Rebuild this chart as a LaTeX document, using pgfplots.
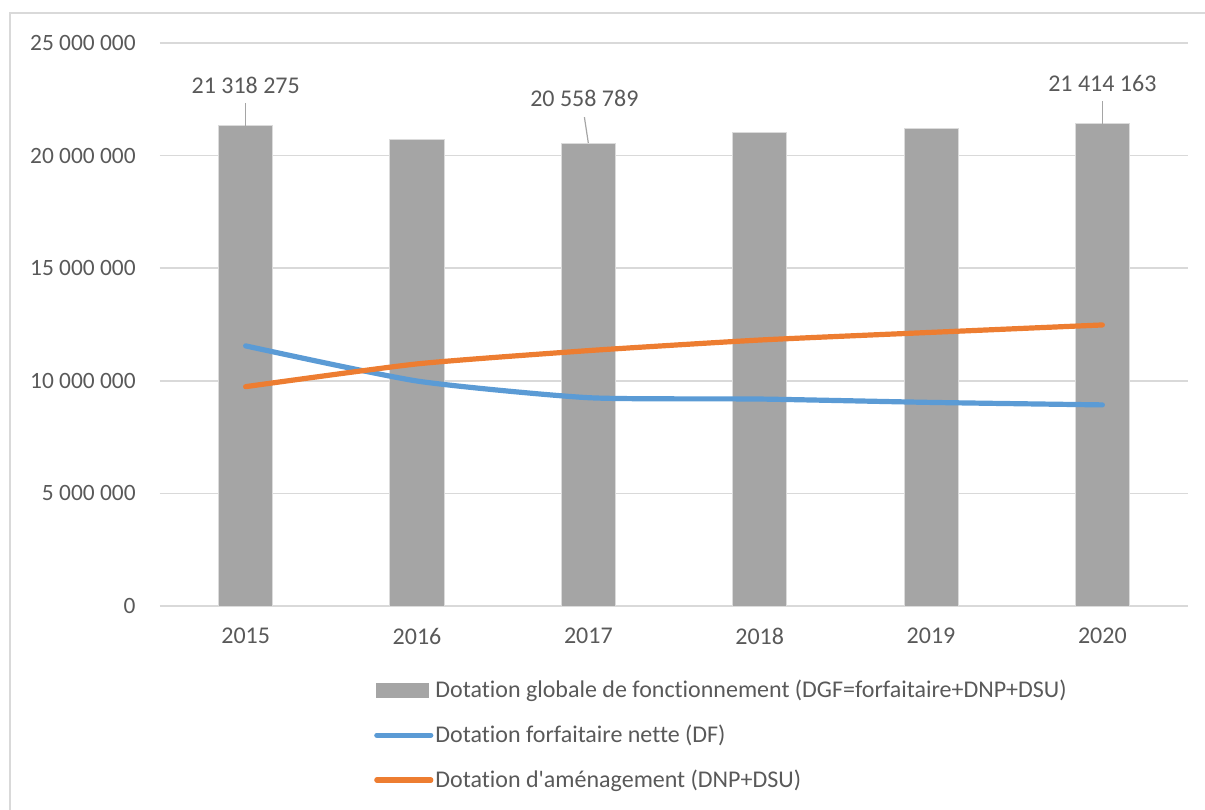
\documentclass[border=0pt]{standalone}
\usepackage{fontspec}
\setmainfont{Carlito}[Ligatures=NoCommon]
\usepackage{pgfplots}
\pgfplotsset{compat=1.18}
\definecolor{barcol}{HTML}{A5A5A5}
\definecolor{bluecol}{HTML}{5B9BD5}
\definecolor{orangecol}{HTML}{ED7D31}
\definecolor{gridcol}{HTML}{D9D9D9}
\definecolor{txtcol}{HTML}{595959}
\definecolor{framecol}{HTML}{D9D9D9}
\begin{document}
\begin{tikzpicture}
\useasboundingbox (0,0) rectangle (602.5pt,404.5pt);
\draw[framecol, line width=0.9pt] (5pt,-10pt) -- (5pt,398pt) -- (615pt,398pt);
\begin{axis}[
  at={(80pt,101.5pt)}, anchor=south west,
  scale only axis, width=514pt, height=281.5pt,
  xmin=-0.5, xmax=5.5, ymin=0, ymax=25000000,
  xtick={0,1,2,3,4,5},
  xticklabels={2015,2016,2017,2018,2019,2020},
  ytick={0,5000000,10000000,15000000,20000000,25000000},
  yticklabels={0,5 000 000,10 000 000,15 000 000,20 000 000,25 000 000},
  scaled y ticks=false,
  major tick length=0pt,
  axis line style={draw=none},
  ymajorgrids, grid style={gridcol, line width=0.8pt},
  ticklabel style={text=txtcol},
  yticklabel style={font=\fontsize{11.7pt}{14pt}\selectfont, inner sep=0pt, anchor=east, xshift=-12pt},
  xticklabel style={font=\fontsize{12pt}{14pt}\selectfont, inner sep=0pt, anchor=north, yshift=-11pt},
  legend style={at={(0.208,-0.127)}, anchor=north west, draw=none, fill=none,
    font=\fontsize{12pt}{14pt}\selectfont, text=txtcol, row sep=10.2pt,
    inner sep=0pt, cells={anchor=west}, nodes={inner sep=1pt}},
  legend cell align=left,
  clip=false,
]
\addplot[ybar, bar width=27pt, fill=barcol, draw=white!60!barcol, line width=0.5pt,
  legend image code/.code={\fill[barcol] (0pt,-3.5pt) rectangle (26pt,3.5pt);}]
  coordinates {(0,21318275) (1,20720000) (2,20558789) (3,21030000) (4,21210000) (5,21414163)};
\addlegendentry{Dotation globale de fonctionnement (DGF=forfaitaire+DNP+DSU)}
\addplot[bluecol, line width=2.6pt, line cap=round, smooth, tension=0.35,
  legend image code/.code={\draw[bluecol, line width=2.6pt, line cap=round] (0pt,0pt) -- (27pt,0pt);}]
  coordinates {(0,11550000) (1,9990000) (2,9250000) (3,9190000) (4,9040000) (5,8930000)};
\addlegendentry{Dotation forfaitaire nette (DF)}
\addplot[orangecol, line width=2.6pt, line cap=round, smooth, tension=0.35,
  legend image code/.code={\draw[orangecol, line width=2.6pt, line cap=round] (0pt,0pt) -- (27pt,0pt);}]
  coordinates {(0,9740000) (1,10750000) (2,11340000) (3,11810000) (4,12150000) (5,12480000)};
\addlegendentry{Dotation d\textquotesingle am\'enagement (DNP+DSU)}
\draw[barcol, line width=0.6pt] (axis cs:0,22340000) -- (axis cs:0,21318275);
\draw[barcol, line width=0.6pt] (axis cs:1.977,21710000) -- (axis cs:2,20558789);
\draw[barcol, line width=0.6pt] (axis cs:5,22420000) -- (axis cs:5,21414163);
\node[text=txtcol, font=\fontsize{12pt}{14pt}\selectfont] at (axis cs:0,23130000) {21 318 275};
\node[text=txtcol, font=\fontsize{12pt}{14pt}\selectfont] at (axis cs:1.977,22560000) {20 558 789};
\node[text=txtcol, font=\fontsize{12pt}{14pt}\selectfont] at (axis cs:5,23200000) {21 414 163};
\end{axis}
\end{tikzpicture}
\end{document}
